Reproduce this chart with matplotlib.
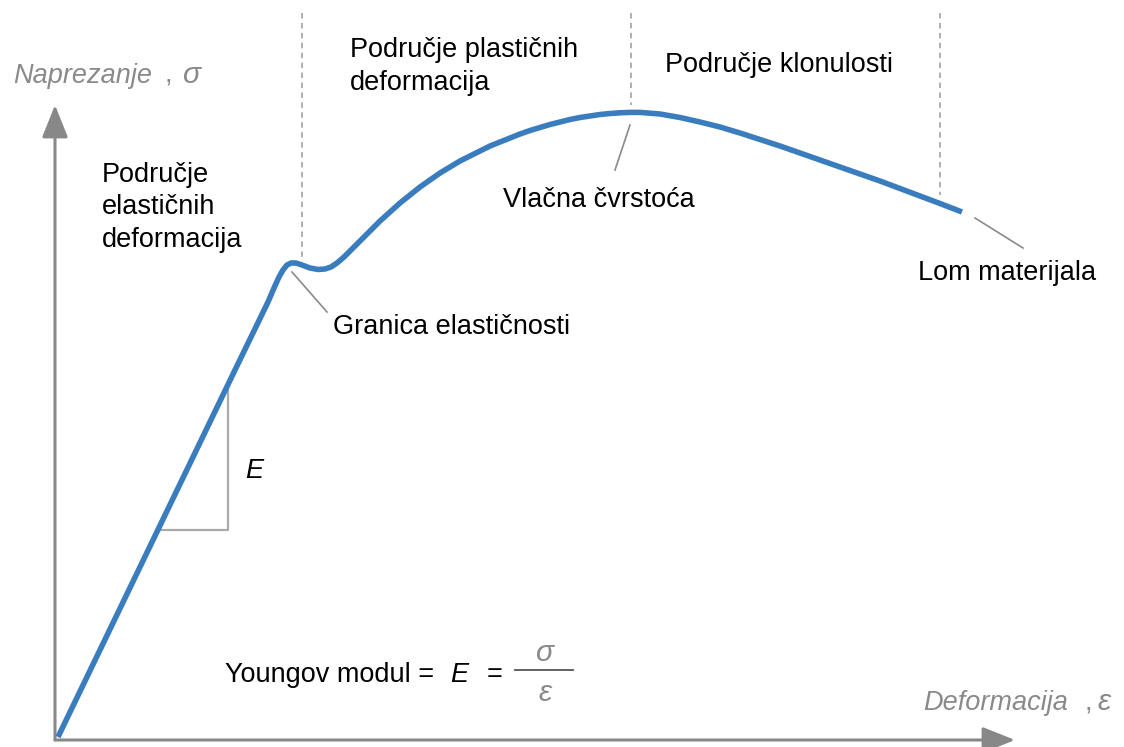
import matplotlib.pyplot as plt

plt.rcParams['font.family'] = ['Liberation Sans', 'DejaVu Sans']

# 应力-应变曲线 (任意单位)
strain = [0, 177, 210, 216, 221, 225, 229, 233, 238, 244, 252, 260, 267, 273, 279,
          286, 292, 302, 312, 322, 332, 342, 352, 362, 372, 382, 392, 402, 412,
          422, 432, 442, 452, 462, 472, 482, 492, 502, 512, 522, 532, 542, 552,
          562, 572, 582, 602, 622, 642, 662, 682, 702, 722, 742, 762, 782, 802,
          822, 842, 862, 882, 904]
stress = [0, 367, 435, 449, 460, 467, 472, 474, 474, 472, 469, 467.5, 468, 470, 474,
          480, 486, 496, 506, 516, 525, 534, 542, 550, 557, 564, 570, 576, 581,
          586, 591, 595, 599, 603, 606.5, 609.5, 612.5, 615, 617.5, 619.5, 621, 622.5, 623.5,
          624.2, 624.6, 624.6, 623, 619.5, 615, 610, 604, 597.5, 591, 584, 577, 570, 563,
          556, 548.5, 541, 533.5, 525]

# 区域分界线 (应变位置, 下端应力)
edge_strain = [244, 573, 882]
edge_stress = [480, 632, 542]

region_labels = ['Područje\nelastičnih\ndeformacija',
                 'Područje plastičnih\ndeformacija',
                 'Područje klonulosti']
point_labels = ['Granica elastičnosti', 'Vlačna čvrstoća', 'Lom materijala']

blue = '#3a7dbf'
grey = '#8a8a8a'
fs = 19.5

fig = plt.figure(figsize=(11.24, 7.47), dpi=100)
ax = fig.add_axes([0, 0, 1, 1])
ax.set_xlim(-58, 1066)
ax.set_ylim(-10, 737)
ax.axis('off')

# 坐标轴箭头
arrow = dict(arrowstyle='-|>,head_length=1.0,head_width=0.4', mutation_scale=20,
             color='#888888', lw=2.2, shrinkA=0, shrinkB=0)
ax.annotate('', xy=(-3, 632), xytext=(-3, -3), arrowprops=arrow)
ax.annotate('', xy=(957, -3), xytext=(-3, -3), arrowprops=arrow)

# 分界虚线
for xs, ys in zip(edge_strain, edge_stress):
    ax.plot([xs, xs], [724, ys], color='#9a9a9a', lw=1.1, ls=(0, (3.6, 2.9)))

# 曲线
ax.plot(strain, stress, color=blue, lw=4.0, solid_joinstyle='round',
        solid_capstyle='butt', zorder=5)

# 杨氏模量三角形
ax.plot([102, 170, 170], [207, 207, 349], color='#aaaaaa', lw=1.6)
ax.text(187, 259, 'E', fontsize=fs, style='italic', va='baseline')

# 引线
ax.plot([234, 269], [465, 425], color=grey, lw=1.2)
ax.plot([572, 557], [612, 567], color=grey, lw=1.2)
ax.plot([917, 965], [519, 489], color=grey, lw=1.2)

# 区域文字 (多行文字以最后一行基线对齐)
ax.text(44, 490, region_labels[0], fontsize=fs, va='baseline', linespacing=1.33)
ax.text(292, 647, region_labels[1], fontsize=fs, va='baseline', linespacing=1.33)
ax.text(607, 665, region_labels[2], fontsize=fs, va='baseline')

# 点标注
ax.text(275, 403, point_labels[0], fontsize=fs, va='baseline')
ax.text(445, 530, point_labels[1], fontsize=fs, va='baseline')
ax.text(860, 457, point_labels[2], fontsize=fs, va='baseline')

# 坐标轴名称
ax.text(-45, 654, 'Naprezanje', fontsize=fs, style='italic', color=grey, va='baseline')
ax.text(107, 654, ',', fontsize=fs, color=grey, va='baseline')
ax.text(125, 654, 'σ', fontsize=fs + 2, style='italic', color=grey, va='baseline')
ax.text(865, 27, 'Deformacija', fontsize=fs, style='italic', color=grey, va='baseline')
ax.text(1027, 27, ',', fontsize=fs, color=grey, va='baseline')
ax.text(1040, 27, 'ε', fontsize=fs + 2, style='italic', color=grey, va='baseline')

# 杨氏模量公式
ax.text(167, 55, 'Youngov modul =', fontsize=fs, va='baseline')
ax.text(392, 55, 'E', fontsize=fs, style='italic', va='baseline')
ax.text(429, 55, '=', fontsize=fs, va='baseline')
ax.plot([457, 515], [67, 67], color='#555555', lw=1.3)
ax.text(487, 84, 'σ', fontsize=fs + 2, style='italic', color=grey, ha='center', va='center')
ax.text(487, 44, 'ε', fontsize=fs + 2, style='italic', color=grey, ha='center', va='center')

fig.savefig('out.png', dpi=100)
